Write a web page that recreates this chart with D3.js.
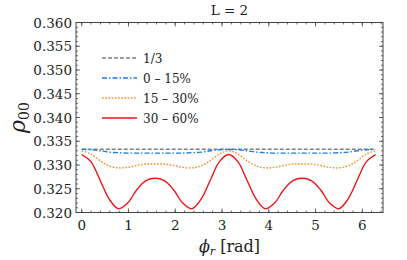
<!DOCTYPE html>
<html>
<head>
<meta charset="utf-8">
<script src="https://cdn.jsdelivr.net/npm/d3@7"></script>
<style>
  html, body { margin: 0; padding: 0; background: #fff; }
  svg { display: block; }
</style>
</head>
<body>
<div id="chart"></div>
<script>
// phi_r sample points [rad]
const phi = [0, 0.196, 0.393, 0.589, 0.785, 0.982, 1.178, 1.374, 1.571, 1.767, 1.963,
  2.160, 2.356, 2.553, 2.749, 2.945, 3.142, 3.338, 3.534, 3.731, 3.927, 4.123, 4.320,
  4.516, 4.712, 4.909, 5.105, 5.301, 5.498, 5.694, 5.890, 6.087, 6.283];

const third = [0.33333, 0.33333];
const thirdPhi = [0, 6.283];

const low = [0.3333, 0.3332, 0.3330, 0.3327, 0.3326, 0.3325, 0.3325, 0.3325, 0.3325,
  0.3325, 0.3325, 0.3325, 0.3326, 0.3327, 0.3330, 0.3332, 0.3333, 0.3332, 0.3330,
  0.3327, 0.3326, 0.3325, 0.3325, 0.3325, 0.3325, 0.3325, 0.3325, 0.3325, 0.3326,
  0.3327, 0.3330, 0.3332, 0.3333];

const mid = [0.3330, 0.3323, 0.3309, 0.3298, 0.3294, 0.3295, 0.3299, 0.3302, 0.3302,
  0.3302, 0.3299, 0.3295, 0.3294, 0.3298, 0.3309, 0.3323, 0.3330, 0.3323, 0.3309,
  0.3298, 0.3294, 0.3295, 0.3299, 0.3302, 0.3302, 0.3302, 0.3299, 0.3295, 0.3294,
  0.3298, 0.3309, 0.3323, 0.3330];

const high = [0.3322, 0.3307, 0.3268, 0.3228, 0.3208, 0.3220, 0.3248, 0.3267, 0.3272,
  0.3267, 0.3248, 0.3220, 0.3208, 0.3228, 0.3268, 0.3307, 0.3322, 0.3307, 0.3268,
  0.3228, 0.3208, 0.3220, 0.3248, 0.3267, 0.3272, 0.3267, 0.3248, 0.3220, 0.3208,
  0.3228, 0.3268, 0.3307, 0.3322];

const labels = ['1/3', '0 \u2013 15%', '15 \u2013 30%', '30 \u2013 60%'];
const xTicks = [0, 1, 2, 3, 4, 5, 6];
const yTicks = [0.320, 0.325, 0.330, 0.335, 0.340, 0.345, 0.350, 0.355, 0.360];

const series = [
  { name: labels[0], xs: thirdPhi, ys: third, color: '#808080', dash: '4,2' },
  { name: labels[1], xs: phi, ys: low, color: '#1a7fe6', dash: '5,2,1.5,2' },
  { name: labels[2], xs: phi, ys: mid, color: '#ff8a1c', dash: '1.6,1.6' },
  { name: labels[3], xs: phi, ys: high, color: '#f01414', dash: null }
];

const font = "'DejaVu Serif', serif";
const width = 407, height = 260;
const margin = { top: 22.5, right: 24, bottom: 47.5, left: 76 };

const svg = d3.select('#chart').append('svg')
  .attr('width', width)
  .attr('height', height)
  .attr('font-family', font);

const x = d3.scaleLinear()
  .domain([-0.122, 6.442])
  .range([margin.left, width - margin.right]);

const y = d3.scaleLinear()
  .domain([0.320, 0.360])
  .range([height - margin.bottom, margin.top]);

const x0 = margin.left, x1 = width - margin.right;
const y0 = height - margin.bottom, y1 = margin.top;
const axisColor = '#444';

// minor / major ticks, inward on all four sides
const xMinor = d3.range(0, 6.45, 0.2);
const yMinor = d3.range(0.320, 0.3601, 0.001);
const tickG = svg.append('g').attr('stroke', axisColor).attr('stroke-width', 0.8);

xMinor.forEach(v => {
  tickG.append('line').attr('x1', x(v)).attr('x2', x(v)).attr('y1', y0).attr('y2', y0 - 2);
  tickG.append('line').attr('x1', x(v)).attr('x2', x(v)).attr('y1', y1).attr('y2', y1 + 2);
});
xTicks.forEach(v => {
  tickG.append('line').attr('x1', x(v)).attr('x2', x(v)).attr('y1', y0).attr('y2', y0 - 4);
  tickG.append('line').attr('x1', x(v)).attr('x2', x(v)).attr('y1', y1).attr('y2', y1 + 4);
});
yMinor.forEach(v => {
  tickG.append('line').attr('y1', y(v)).attr('y2', y(v)).attr('x1', x0).attr('x2', x0 + 2);
  tickG.append('line').attr('y1', y(v)).attr('y2', y(v)).attr('x1', x1).attr('x2', x1 - 2);
});
yTicks.forEach(v => {
  tickG.append('line').attr('y1', y(v)).attr('y2', y(v)).attr('x1', x0).attr('x2', x0 + 4);
  tickG.append('line').attr('y1', y(v)).attr('y2', y(v)).attr('x1', x1).attr('x2', x1 - 4);
});

// tick labels
svg.append('g').selectAll('text')
  .data(xTicks)
  .enter().append('text')
  .attr('x', d => x(d))
  .attr('y', y0 + 17)
  .attr('text-anchor', 'middle')
  .attr('font-size', 13.5)
  .attr('fill', '#222')
  .text(d => d);

svg.append('g').selectAll('text')
  .data(yTicks)
  .enter().append('text')
  .attr('x', x0 - 4)
  .attr('y', d => y(d) + 5)
  .attr('text-anchor', 'end')
  .attr('font-size', 13.5)
  .attr('fill', '#222')
  .text(d => d3.format('.3f')(d));

// curves
svg.append('clipPath').attr('id', 'plot-clip')
  .append('rect').attr('x', x0).attr('y', y1).attr('width', x1 - x0).attr('height', y0 - y1);

const line = d3.line()
  .x(d => x(d[0]))
  .y(d => y(d[1]))
  .curve(d3.curveCatmullRom.alpha(0.5));

svg.append('g').attr('clip-path', 'url(#plot-clip)')
  .selectAll('path')
  .data(series)
  .enter().append('path')
  .attr('d', s => line(s.xs.map((v, i) => [v, s.ys[i]])))
  .attr('fill', 'none')
  .attr('stroke', s => s.color)
  .attr('stroke-width', 1.4)
  .attr('stroke-dasharray', s => s.dash);

// frame
svg.append('rect')
  .attr('x', x0).attr('y', y1)
  .attr('width', x1 - x0).attr('height', y0 - y1)
  .attr('fill', 'none')
  .attr('stroke', axisColor)
  .attr('stroke-width', 1);

// legend
const legend = svg.append('g').attr('transform', 'translate(102,58)');
const rows = legend.selectAll('g')
  .data(series)
  .enter().append('g')
  .attr('transform', (d, i) => `translate(0,${i * 20})`);

rows.append('line')
  .attr('x1', 0).attr('x2', 35)
  .attr('stroke', d => d.color)
  .attr('stroke-width', 1.4)
  .attr('stroke-dasharray', d => d.dash);

rows.append('text')
  .attr('x', 41)
  .attr('y', 4.5)
  .attr('font-size', 12)
  .attr('fill', '#222')
  .text(d => d.name);

// title and axis labels
svg.append('text')
  .attr('x', (x0 + x1) / 2)
  .attr('y', 15)
  .attr('text-anchor', 'middle')
  .attr('font-size', 13.5)
  .attr('fill', '#222')
  .text('L = 2');

const yl = svg.append('text')
  .attr('transform', `translate(25,${(y0 + y1) / 2}) rotate(-90)`)
  .attr('text-anchor', 'middle')
  .attr('font-size', 22)
  .attr('fill', '#222');
yl.append('tspan').attr('font-style', 'italic').text('\u03c1');
yl.append('tspan').attr('font-size', 14).attr('dy', 4).text('00');

const xl = svg.append('text')
  .attr('x', (x0 + x1) / 2)
  .attr('y', 252)
  .attr('text-anchor', 'middle')
  .attr('font-size', 16)
  .attr('fill', '#222');
xl.append('tspan').attr('font-style', 'italic').text('\u03d5');
xl.append('tspan').attr('font-style', 'italic').attr('font-size', 11).attr('dy', 3).text('r');
xl.append('tspan').attr('dy', -3).text(' [rad]');
</script>
</body>
</html>
